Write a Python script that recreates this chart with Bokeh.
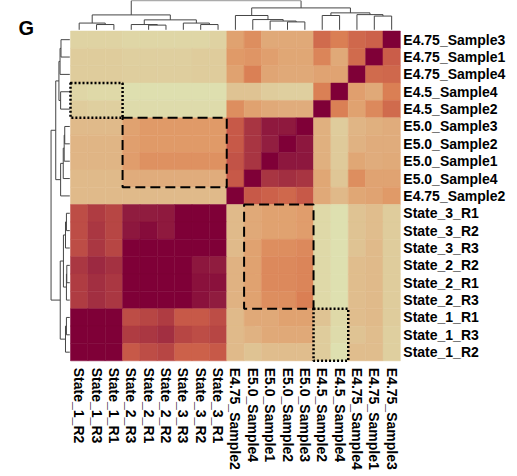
import numpy as np
from bokeh.plotting import figure
from bokeh.models import ColumnDataSource, LinearColorMapper, Range1d, Label
from bokeh.core.properties import value
from bokeh.embed import file_html
from bokeh.resources import INLINE

# ---------------- data ----------------
row_labels = [
    "E4.75_Sample3", "E4.75_Sample1", "E4.75_Sample4", "E4.5_Sample4", "E4.5_Sample2",
    "E5.0_Sample3", "E5.0_Sample2", "E5.0_Sample1", "E5.0_Sample4", "E4.75_Sample2",
    "State_3_R1", "State_3_R2", "State_3_R3", "State_2_R2", "State_2_R1", "State_2_R3",
    "State_1_R1", "State_1_R3", "State_1_R2",
]
col_labels = row_labels[::-1]

# similarity (0-100), rows top->bottom, columns left->right
r00 = [12, 12, 12, 10, 10, 10, 10, 10, 13, 41, 50, 37, 37, 37, 63, 57, 64, 66, 100]
r01 = [17, 17, 17, 15, 15, 15, 15, 17, 17, 45, 47, 42, 38, 38, 54, 37, 63, 100, 67]
r02 = [17, 17, 17, 16, 16, 16, 16, 17, 17, 41, 56, 39, 37, 37, 40, 40, 100, 63, 64]
r03 = [10, 8, 8, 3, 3, 3, 3, 3, 3, 22, 22, 17, 15, 15, 56, 100, 42, 37, 57]
r04 = [17, 15, 15, 6, 6, 6, 6, 6, 6, 50, 41, 37, 35, 35, 100, 56, 41, 52, 63]
r05 = [27, 27, 27, 41, 45, 45, 45, 45, 45, 68, 80, 90, 90, 100, 33, 17, 30, 33, 35]
r06 = [30, 30, 30, 42, 45, 45, 45, 45, 45, 68, 80, 88, 100, 91, 33, 18, 32, 35, 35]
r07 = [30, 30, 30, 43, 49, 49, 49, 49, 49, 70, 80, 100, 91, 91, 33, 18, 38, 35, 36]
r08 = [27, 27, 27, 35, 35, 35, 35, 35, 35, 68, 100, 80, 82, 80, 38, 20, 50, 40, 40]
r09 = [27, 27, 27, 27, 27, 27, 27, 27, 27, 100, 68, 66, 64, 68, 37, 28, 38, 40, 45]
r10 = [72, 77, 74, 89, 89, 90, 100, 100, 100, 27, 37, 41, 41, 43, 8, 2, 22, 25, 17]
r11 = [72, 79, 74, 91, 95, 90, 100, 100, 100, 27, 37, 41, 41, 43, 8, 2, 22, 25, 17]
r12 = [72, 79, 74, 100, 100, 100, 100, 100, 100, 27, 41, 50, 50, 52, 8, 2, 22, 27, 17]
r13 = [79, 84, 81, 100, 100, 100, 100, 91, 89, 32, 41, 52, 52, 54, 8, 2, 25, 27, 17]
r14 = [77, 82, 79, 100, 100, 100, 100, 93, 93, 32, 41, 52, 52, 54, 8, 2, 25, 27, 17]
r15 = [77, 82, 79, 100, 100, 100, 100, 93, 89, 32, 41, 50, 50, 57, 8, 2, 25, 27, 17]
r16 = [100, 100, 100, 72, 74, 77, 68, 68, 72, 27, 37, 37, 41, 41, 22, 8, 25, 27, 17]
r17 = [100, 100, 100, 77, 79, 82, 74, 72, 74, 27, 32, 37, 37, 37, 17, 6, 22, 25, 15]
r18 = [100, 100, 100, 68, 72, 74, 66, 66, 68, 27, 22, 25, 25, 25, 17, 2, 25, 25, 15]
matrix = [r00, r01, r02, r03, r04, r05, r06, r07, r08, r09,
          r10, r11, r12, r13, r14, r15, r16, r17, r18]

# hierarchical clustering merges (child a, child b, height); ints refer to earlier merges
merges = [
    ("State_1_R3", "State_1_R1", 0.18),      # 0
    ("State_1_R2", 0, 0.23),                 # 1
    ("State_2_R1", "State_2_R2", 0.16),      # 2
    ("State_2_R3", 2, 0.18),                 # 3
    ("State_3_R2", "State_3_R1", 0.18),      # 4
    ("State_3_R3", 4, 0.23),                 # 5
    (3, 5, 0.34),                            # 6
    (1, 6, 0.51),                            # 7
    ("E5.0_Sample2", "E5.0_Sample3", 0.27),  # 8
    ("E5.0_Sample1", 8, 0.30),               # 9
    ("E5.0_Sample4", 9, 0.35),               # 10
    ("E4.75_Sample2", 10, 0.49),             # 11
    ("E4.5_Sample2", "E4.5_Sample4", 0.49),  # 12
    ("E4.75_Sample1", "E4.75_Sample3", 0.47),# 13
    ("E4.75_Sample4", 13, 0.52),             # 14
    (12, 14, 0.58),                          # 15
    (11, 15, 0.75),                          # 16
    (7, 16, 1.00),                           # 17
]

# highlighted blocks: (first col, last col, first row, last row, style)
boxes = [
    ("State_1_R2", "State_1_R1", "E4.5_Sample4", "E4.5_Sample2", "dotted"),
    ("State_2_R3", "State_3_R1", "E5.0_Sample3", "E5.0_Sample4", "dashed"),
    ("E5.0_Sample4", "E5.0_Sample3", "State_3_R1", "State_2_R3", "dashed"),
    ("E4.5_Sample2", "E4.5_Sample4", "State_1_R1", "State_1_R2", "dotted"),
]

# ---------------- styling ----------------
stops = [(0.00, "#dee3b2"), (0.15, "#dfcf9f"), (0.30, "#e0b585"), (0.45, "#e09a68"),
         (0.58, "#d97c52"), (0.68, "#c85a48"), (0.78, "#ad3a42"), (0.88, "#921f40"),
         (1.00, "#7f0037")]


def hex2rgb(h):
    return [int(h[i:i + 2], 16) for i in (1, 3, 5)]


sp = np.array([s[0] for s in stops])
sc = np.array([hex2rgb(s[1]) for s in stops], dtype=float)
t = np.linspace(0, 1, 256)
palette = ["#%02x%02x%02x" % tuple(int(round(np.interp(tt, sp, sc[:, k]))) for k in range(3)) for tt in t]
mapper = LinearColorMapper(palette=palette, low=0, high=100)

CELL = 17.36
W, H = 517, 476
X0PIX, Y0PIX = 70.0, 30.5
x_start = -X0PIX / CELL
y_top = -Y0PIX / CELL

p = figure(width=W, height=H, output_backend="svg", toolbar_location=None,
           x_range=Range1d(x_start, x_start + W / CELL),
           y_range=Range1d(y_top + H / CELL, y_top),
           x_axis_location=None, y_axis_location=None, min_border=0,
           outline_line_color=None, background_fill_color="white")
p.grid.visible = False

n = len(row_labels)
xs, ys, vs = [], [], []
for r in range(n):
    for c in range(n):
        xs.append(c + 0.5)
        ys.append(r + 0.5)
        vs.append(matrix[r][c])
src = ColumnDataSource(dict(x=xs, y=ys, v=vs))
p.rect("x", "y", width=1, height=1, source=src,
       fill_color={"field": "v", "transform": mapper},
       line_color={"field": "v", "transform": mapper}, line_width=0.5)

# dendrograms
col_pos = {lab: i + 0.5 for i, lab in enumerate(col_labels)}
row_pos = {lab: i + 0.5 for i, lab in enumerate(row_labels)}


def dendro(posmap):
    node_pos, node_h = [], []
    lines = []
    for a, b, h in merges:
        pa, ha = (posmap[a], 0.0) if isinstance(a, str) else (node_pos[a], node_h[a])
        pb, hb = (posmap[b], 0.0) if isinstance(b, str) else (node_pos[b], node_h[b])
        lines.append(([pa, pa, pb, pb], [ha, h, h, hb]))
        node_pos.append((pa + pb) / 2)
        node_h.append(h)
    return lines


top_lines = dendro(col_pos)
p.multi_line([l[0] for l in top_lines],
             [[-0.07 - hh * 1.68 for hh in l[1]] for l in top_lines],
             line_color="#454545", line_width=1)

left_lines = dendro(row_pos)
p.multi_line([[-0.04 - hh * 1.08 for hh in l[1]] for l in left_lines],
             [l[0] for l in left_lines],
             line_color="#454545", line_width=1)

# boxes
for c0, c1, r0, r1, style in boxes:
    left = col_labels.index(c0)
    right = col_labels.index(c1) + 1
    top = row_labels.index(r0)
    bottom = row_labels.index(r1) + 1
    if style == "dashed":
        p.quad(left=left, right=right, top=top, bottom=bottom, fill_color=None,
               line_color="black", line_width=2, line_dash="10 5")
    else:
        p.quad(left=left, right=right, top=top, bottom=bottom, fill_color=None,
               line_color="black", line_width=2.5, line_dash="2 2")

# labels
font = value("Liberation Sans")
p.text(x=[n + 0.17] * n, y=[i + 0.5 for i in range(n)], text=row_labels,
       text_font=font, text_font_style="bold", text_font_size="14px",
       text_baseline="middle", text_align="left", text_color="black")
p.text(x=[i + 0.5 for i in range(n)], y=[n + 0.4] * n, text=col_labels, angle=-np.pi / 2,
       text_font=font, text_font_style="bold", text_font_size="14px",
       text_baseline="middle", text_align="left", text_color="black")

p.add_layout(Label(x=x_start + 18 / CELL, y=-0.15, text="G", text_font="Liberation Sans",
                   text_font_style="bold", text_font_size="20px", text_baseline="alphabetic",
                   text_color="black"))

open("out.html", "w").write(file_html(p, INLINE))
